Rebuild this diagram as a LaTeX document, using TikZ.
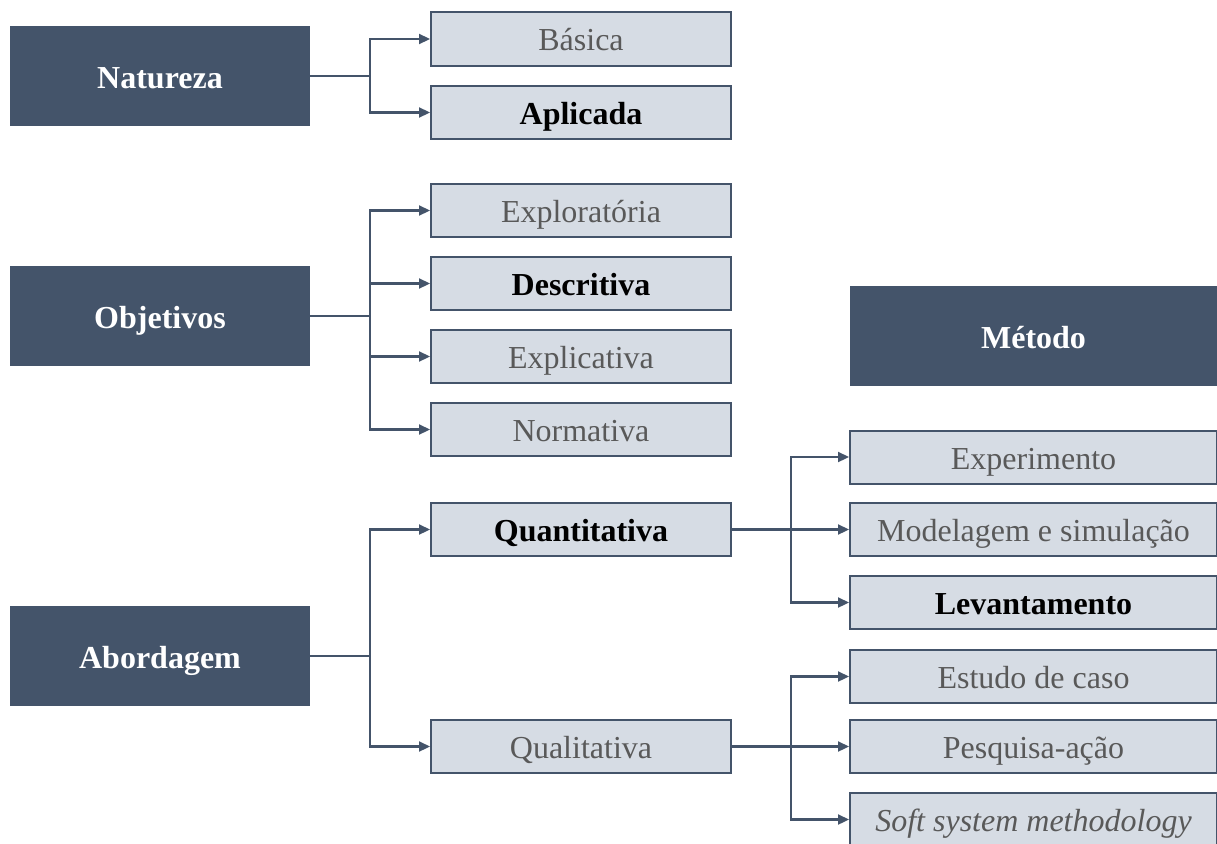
\documentclass[tikz,border=0pt]{standalone}
\usepackage{fontspec}
\setmainfont{Liberation Serif}
\usetikzlibrary{arrows.meta}
\definecolor{navy}{HTML}{44546A}
\definecolor{pale}{HTML}{D6DCE4}
\definecolor{muted}{HTML}{595959}
\tikzset{
  headbox/.style={fill=navy, draw=none, text=white, font=\fontsize{32}{38}\selectfont\bfseries,
    minimum width=300pt, minimum height=100pt, inner sep=0pt, text height=24pt, text depth=0pt},
  optbox/.style={fill=pale, draw=navy, line width=2pt, text=muted, font=\fontsize{32}{38}\selectfont,
    minimum width=300pt, minimum height=53pt, inner sep=0pt, text height=24pt, text depth=0pt},
  widebox/.style={optbox, minimum width=367pt},
  chosen/.style={text=black, font=\fontsize{32}{38}\selectfont\bfseries},
  conn/.style={draw=navy, line width=2.2pt},
  arr/.style={conn, -{Triangle[length=11pt,width=10pt]}}
}
\begin{document}
\begin{tikzpicture}[x=1pt,y=-1pt]
\useasboundingbox (0,0) rectangle (1217,843);
% category headers
\node[headbox] (nat) at (160,76) {Natureza};
\node[headbox] (obj) at (160,316) {Objetivos};
\node[headbox] (abo) at (160,656) {Abordagem};
\node[headbox, minimum width=367pt] (met) at (1033.5,336) {Método};
% nature
\node[optbox] (bas) at (581,39) {Básica};
\node[optbox, chosen] (apl) at (581,112.5) {Aplicada};
% objectives
\node[optbox] (exo) at (581,210.5) {Exploratória};
\node[optbox, chosen] (des) at (581,283.5) {Descritiva};
\node[optbox] (exl) at (581,356.5) {Explicativa};
\node[optbox] (nor) at (581,429.5) {Normativa};
% approach
\node[optbox, chosen] (qua) at (581,529.5) {Quantitativa};
\node[optbox] (qul) at (581,746.5) {Qualitativa};
% methods
\node[widebox] (expm) at (1033.5,457) {Experimento};
\node[widebox] (mod) at (1033.5,529.5) {Modelagem e simulação};
\node[widebox, chosen] (lev) at (1033.5,602.5) {Levantamento};
\node[widebox] (est) at (1033.5,676.5) {Estudo de caso};
\node[widebox] (pes) at (1033.5,746.5) {Pesquisa-ação};
\node[widebox, font=\fontsize{32}{38}\selectfont\itshape] (ssm) at (1033.5,819.5) {Soft system methodology};
% connectors
\coordinate (fn) at ([xshift=60pt]nat.east);
\draw[conn] (nat.east) -- (fn);
\draw[arr] (fn) |- (bas.west);
\draw[arr] (fn) |- (apl.west);
\coordinate (fo) at ([xshift=60pt]obj.east);
\draw[conn] (obj.east) -- (fo);
\draw[arr] (fo) |- (exo.west);
\draw[arr] (fo) |- (des.west);
\draw[arr] (fo) |- (exl.west);
\draw[arr] (fo) |- (nor.west);
\coordinate (fa) at ([xshift=60pt]abo.east);
\draw[conn] (abo.east) -- (fa);
\draw[arr] (fa) |- (qua.west);
\draw[arr] (fa) |- (qul.west);
\coordinate (fq) at ([xshift=59pt]qua.east);
\draw[arr] (qua.east) -- (mod.west);
\draw[arr] (fq) |- (expm.west);
\draw[arr] (fq) |- (lev.west);
\coordinate (fl) at ([xshift=59pt]qul.east);
\draw[arr] (qul.east) -- (pes.west);
\draw[arr] (fl) |- (est.west);
\draw[arr] (fl) |- (ssm.west);
\end{tikzpicture}
\end{document}
